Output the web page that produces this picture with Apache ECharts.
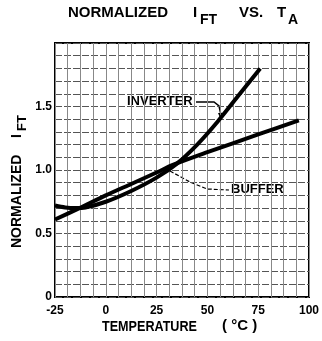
<!DOCTYPE html>
<html><head><meta charset="utf-8">
<script src="https://cdn.jsdelivr.net/npm/echarts@6/dist/echarts.min.js"></script>
<style>html,body{margin:0;padding:0;background:#fff}#c{width:322px;height:341px}</style>
</head><body><div id="c"></div>
<script>
const xTickLabels = [-25, 0, 25, 50, 75, 100];
const yTickLabels = ['0', '0.5', '1.0', '1.5'];
const inverterT = [-25, -20, -15, -10, 0, 12.5, 25, 35, 45, 55, 65, 76];
const inverterV = [0.72, 0.705, 0.70, 0.705, 0.75, 0.835, 0.94, 1.05, 1.20, 1.38, 1.58, 1.80];
const bufferT = [-25, -13, 0, 12.5, 25, 33, 50, 75, 95];
const bufferV = [0.61, 0.70, 0.80, 0.89, 0.98, 1.04, 1.14, 1.28, 1.39];

const F = 'Liberation Sans, Arial, sans-serif';
const chart = echarts.init(document.getElementById('c'), null, {renderer: 'canvas'});
const zip = (a, b) => a.map((v, i) => [v, b[i]]);

chart.setOption({
  animation: false,
  backgroundColor: '#fff',
  grid: {left: 55, top: 43, right: 6, bottom: 44, show: true, borderColor: '#000', borderWidth: 2, containLabel: false},
  xAxis: {
    type: 'value', min: -25, max: 100, interval: 6.25,
    axisLine: {show: false}, axisTick: {show: false},
    splitLine: {show: true, lineStyle: {color: '#888', width: 1}},
    axisLabel: {
      margin: 8, color: '#000', fontFamily: F, fontWeight: 'bold', fontSize: 12,
      showMinLabel: true, showMaxLabel: true,
      formatter: v => { const r = Math.round(v); return (Math.abs(v - r) < 1e-6 && xTickLabels.includes(r)) ? String(r) : ''; }
    }
  },
  yAxis: {
    type: 'value', min: 0, max: 2.0, interval: 0.1,
    axisLine: {show: false}, axisTick: {show: false},
    splitLine: {show: true, lineStyle: {color: '#555', width: 1, type: [7, 2]}},
    axisLabel: {
      margin: 3, color: '#000', fontFamily: F, fontWeight: 'bold', fontSize: 12,
      formatter: v => { const k = Math.round(v * 10); return (k % 5 === 0 && k / 5 < yTickLabels.length) ? yTickLabels[k / 5] : ''; }
    }
  },
  series: [
    {type: 'line', name: 'INVERTER', data: zip(inverterT, inverterV), smooth: 0.3, symbol: 'none',
     lineStyle: {color: '#000', width: 4}},
    {type: 'line', name: 'BUFFER', data: zip(bufferT, bufferV), smooth: 0.3, symbol: 'none',
     lineStyle: {color: '#000', width: 4}}
  ],
  graphic: [
    // Title
    {type: 'text', left: 68, top: 5, style: {text: 'NORMALIZED', font: 'bold 15px ' + F, fill: '#000'}},
    {type: 'text', left: 193, top: 5, style: {text: 'I', font: 'bold 15px ' + F, fill: '#000'}},
    {type: 'text', left: 200, top: 13, style: {text: 'FT', font: 'bold 14px ' + F, fill: '#000'}},
    {type: 'text', left: 239, top: 5, style: {text: 'VS.', font: 'bold 15px ' + F, fill: '#000'}},
    {type: 'text', left: 277, top: 5, style: {text: 'T', font: 'bold 15px ' + F, fill: '#000'}},
    {type: 'text', left: 288, top: 13, style: {text: 'A', font: 'bold 14px ' + F, fill: '#000'}},
    // Y axis title (rotated)
    {type: 'text', x: 10, y: 248, rotation: Math.PI / 2, style: {text: 'NORMALIZED', font: 'bold 14px ' + F, fill: '#000', align: 'left', verticalAlign: 'top'}},
    {type: 'text', x: 10, y: 138, rotation: Math.PI / 2, style: {text: 'I', font: 'bold 14px ' + F, fill: '#000', align: 'left', verticalAlign: 'top'}},
    {type: 'text', x: 16, y: 131, rotation: Math.PI / 2, style: {text: 'FT', font: 'bold 13px ' + F, fill: '#000', align: 'left', verticalAlign: 'top'}},
    // X axis title
    {type: 'text', x: 102, y: 320, scaleX: 0.9, style: {text: 'TEMPERATURE', font: 'bold 14px ' + F, fill: '#000'}},
    {type: 'text', x: 222, y: 318, style: {text: '( \u00B0C )', font: 'bold 15px ' + F, fill: '#000'}},
    // Annotations
    {type: 'text', left: 127, top: 95, style: {text: 'INVERTER', font: 'bold 13px ' + F, fill: '#000', backgroundColor: '#fff'}},
    {type: 'polyline', shape: {points: [[196, 102], [214, 102], [219, 106], [221, 115]]}, style: {stroke: '#000', lineWidth: 1.5, fill: null}},
    {type: 'polygon', shape: {points: [[218, 113], [224, 113], [221, 120]]}, style: {fill: '#000'}},
    {type: 'text', left: 231, top: 183, style: {text: 'BUFFER', font: 'bold 13px ' + F, fill: '#000', backgroundColor: '#fff'}},
    {type: 'polyline', shape: {points: [[170, 171], [190, 182], [207, 189], [229, 190]]}, style: {stroke: '#000', lineWidth: 1.2, fill: null, lineDash: [4, 2]}}
  ]
});
</script></body></html>
